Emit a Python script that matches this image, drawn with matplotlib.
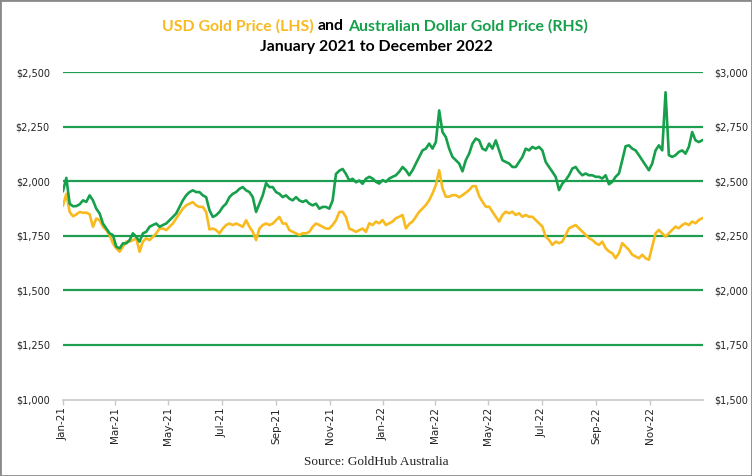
import pandas as pd
import matplotlib
import matplotlib.pyplot as plt
import matplotlib.dates as mdates
from matplotlib.ticker import FuncFormatter
from matplotlib.offsetbox import TextArea, HPacker, AnchoredOffsetbox
from matplotlib.patches import Rectangle
matplotlib.use('Agg')

# series, one value every ~3.8 days from 1 Jan 2021 to 31 Dec 2022
usd_gold = [
    1889, 1942, 1859, 1839, 1848, 1859, 1855, 1856, 1848, 1791,
    1829, 1821, 1791, 1776, 1753, 1715, 1692, 1677, 1700, 1723,
    1723, 1730, 1738, 1677, 1723, 1738, 1730, 1745, 1761, 1783,
    1783, 1776, 1791, 1806, 1829, 1852, 1874, 1889, 1897, 1904,
    1889, 1882, 1882, 1859, 1779, 1783, 1776, 1761, 1783, 1799,
    1806, 1799, 1806, 1799, 1791, 1821, 1791, 1768, 1730, 1783,
    1799, 1806, 1799, 1806, 1821, 1836, 1806, 1806, 1776, 1768,
    1761, 1753, 1761, 1761, 1768, 1791, 1806, 1799, 1791, 1783,
    1783, 1799, 1821, 1859, 1859, 1836, 1783, 1776, 1768, 1776, 1783, 1768,
    1807, 1799, 1815, 1807, 1822, 1799, 1807, 1815, 1830, 1837,
    1845, 1784, 1804, 1815, 1837, 1860, 1875, 1891, 1913, 1944,
    1982, 2050, 1967, 1929, 1929, 1936, 1936, 1926, 1936, 1947,
    1959, 1977, 1977, 1932, 1906, 1883, 1883, 1860, 1837, 1815,
    1845, 1860, 1853, 1860, 1845, 1853, 1837, 1845, 1837, 1837,
    1822, 1807, 1792, 1746, 1731, 1708, 1723, 1716, 1723, 1754,
    1784, 1792, 1799, 1784, 1769, 1754, 1739, 1731, 1716, 1708,
    1723, 1693, 1678, 1670, 1647, 1670, 1716, 1701, 1685, 1663,
    1655, 1647, 1663, 1647, 1640, 1701, 1761, 1777, 1761, 1746,
    1761, 1777, 1792, 1784, 1799, 1807, 1799, 1815, 1807, 1822, 1830,
]

aud_gold = [
    2455, 2515, 2397, 2385, 2386, 2394, 2412, 2405, 2435, 2412,
    2374, 2352, 2306, 2283, 2261, 2253, 2200, 2192, 2215, 2215,
    2230, 2261, 2245, 2223, 2261, 2268, 2291, 2299, 2306, 2291,
    2299, 2306, 2321, 2336, 2352, 2382, 2412, 2435, 2450, 2458,
    2450, 2450, 2435, 2427, 2367, 2336, 2344, 2359, 2382, 2397,
    2427, 2442, 2450, 2465, 2473, 2458, 2450, 2427, 2359, 2397,
    2435, 2491, 2473, 2473, 2450, 2442, 2427, 2435, 2420, 2412,
    2427, 2412, 2405, 2412, 2397, 2389, 2397, 2374, 2382, 2382,
    2374, 2412, 2533, 2548, 2556, 2533, 2503, 2511, 2495, 2503, 2488, 2511,
    2520, 2512, 2497, 2489, 2505, 2497, 2512, 2520, 2527, 2543,
    2565, 2550, 2527, 2550, 2581, 2611, 2641, 2649, 2672, 2649,
    2679, 2824, 2725, 2702, 2649, 2611, 2596, 2581, 2545, 2596,
    2626, 2672, 2695, 2687, 2649, 2641, 2672, 2649, 2687, 2641,
    2596, 2588, 2581, 2565, 2565, 2588, 2611, 2649, 2641, 2657,
    2649, 2657, 2641, 2588, 2565, 2543, 2520, 2459, 2489, 2505,
    2527, 2558, 2565, 2543, 2527, 2535, 2527, 2527, 2520, 2520,
    2512, 2527, 2486, 2497, 2520, 2535, 2596, 2660, 2664, 2649,
    2641, 2619, 2596, 2573, 2550, 2581, 2641, 2664, 2641, 2907,
    2619, 2611, 2619, 2634, 2641, 2626, 2657, 2725, 2687, 2679, 2687,
]

dates = pd.date_range("2021-01-01", "2022-12-31", periods=len(usd_gold))

left_ticks = [1000, 1250, 1500, 1750, 2000, 2250, 2500]
right_ticks = [1500, 1750, 2000, 2250, 2500, 2750, 3000]

GOLD = '#F8BA1E'
GREEN = '#17A04B'
GRID = '#1E9E50'
AXIS = '#C8C8C8'

fig = plt.figure(figsize=(7.52, 4.76), dpi=100)
ax = fig.add_axes([63/752, 1 - 399.5/476, 640/752, 327.5/476])
ax2 = ax.twinx()

ax.plot(dates, usd_gold, color=GOLD, lw=1.9, solid_joinstyle='round')
ax2.plot(dates, aud_gold, color=GREEN, lw=1.9, solid_joinstyle='round')

money = FuncFormatter(lambda v, p: f'${v:,.0f}')

ax.set_ylim(1000, 2500)
ax.set_yticks(left_ticks)
ax.yaxis.set_major_formatter(money)
ax2.set_ylim(1500, 3000)
ax2.set_yticks(right_ticks)
ax2.yaxis.set_major_formatter(money)

ax.set_xlim(pd.Timestamp("2021-01-01"), pd.Timestamp("2022-12-31 23:00"))
ax.xaxis.set_major_locator(mdates.MonthLocator(bymonth=[1, 3, 5, 7, 9, 11]))
ax.xaxis.set_major_formatter(mdates.DateFormatter('%b-%y'))
for lab in ax.get_xticklabels():
    lab.set_rotation(90)

ax.grid(axis='y', color=GRID, lw=1.6)
ax.get_ygridlines()[0].set_visible(False)
ax.set_axisbelow(True)

for a in (ax, ax2):
    for s in a.spines.values():
        s.set_visible(False)
ax.spines['bottom'].set_visible(True)
ax.spines['bottom'].set_color(AXIS)
ax.spines['bottom'].set_linewidth(1.2)

ax.tick_params(axis='y', length=0, pad=9.5, labelsize=7, labelcolor='#222222')
ax2.tick_params(axis='y', length=0, pad=8, labelsize=7, labelcolor='#222222')
ax.tick_params(axis='x', length=3.5, width=1, color=AXIS, pad=2,
               labelsize=7.5, labelcolor='#222222')

# two-colour title
tfont = dict(family='Lato', weight='bold', size=11.4)
parts = [TextArea('USD Gold Price (LHS)', textprops=dict(color=GOLD, **tfont)),
         TextArea('and', textprops=dict(color='black', **tfont)),
         TextArea('Australian Dollar Gold Price (RHS)', textprops=dict(color=GREEN, **tfont))]
line1 = HPacker(children=parts, sep=3, pad=0, align='baseline')
box = AnchoredOffsetbox(loc='center', child=line1, frameon=False, pad=0,
                        bbox_to_anchor=(0.498, 1 - 26/476), bbox_transform=fig.transFigure)
ax.add_artist(box)
fig.text(0.501, 1 - 47/476, 'January 2021 to December 2022', ha='center', va='center',
         color='black', **tfont)

fig.text(0.5, 1 - 462/476, 'Source: GoldHub Australia', ha='center', va='center',
         family='Liberation Serif', size=9.5, color='#222222')

fig.add_artist(Rectangle((0, 0), 1, 1, transform=fig.transFigure, fill=False,
                         ec='#8a8a8a', lw=2))

plt.savefig('out.png', dpi=100)
